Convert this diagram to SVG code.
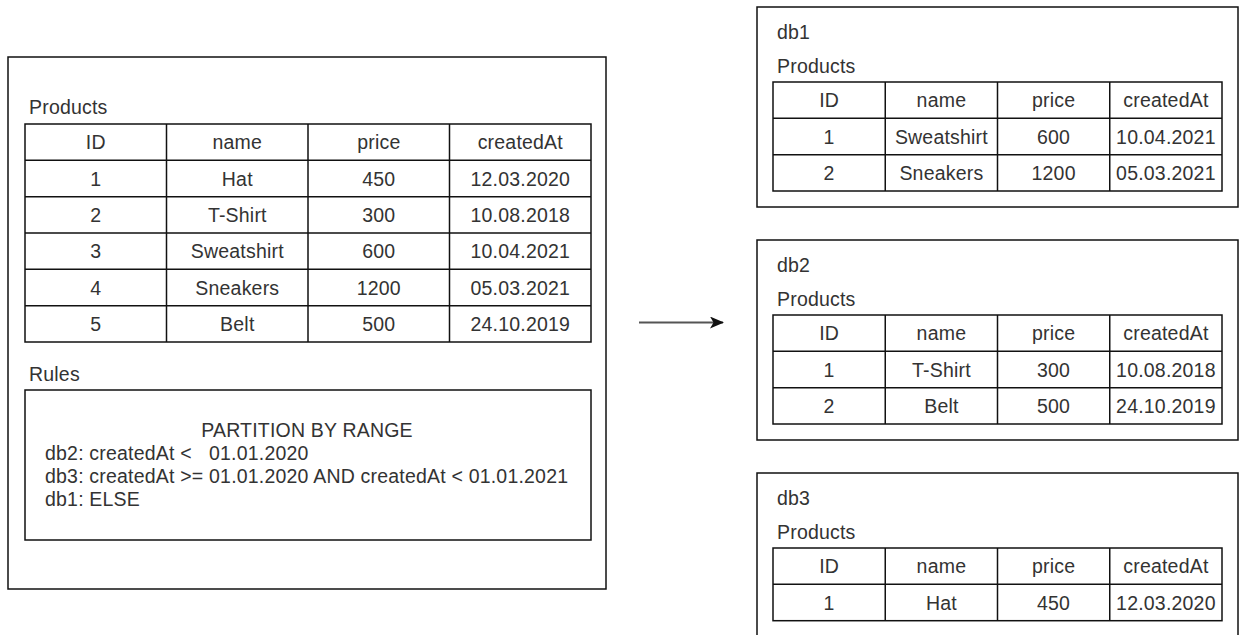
<svg xmlns="http://www.w3.org/2000/svg" width="1239" height="635" viewBox="0 0 1239 635">
  <style>
    .box { fill: #ffffff; stroke: #111111; stroke-width: 1.5; }
    .grid { fill: none; stroke: #111111; stroke-width: 1.5; }
    text { font-family: "Liberation Sans", Arial, sans-serif; font-size: 19.5px; letter-spacing: 0.2px; fill: #333333; }
    .c { text-anchor: middle; }
    .edge { stroke: #555555; stroke-width: 2; fill: none; }
  </style>
  <defs>
    <marker id="arrow" viewBox="0 0 14 12" refX="13" refY="6" markerWidth="14" markerHeight="12" markerUnits="userSpaceOnUse" orient="auto">
      <path d="M14,6 L0,0 L3.5,6 L0,12 Z" fill="#111111"/>
    </marker>
  </defs>
  <rect width="1239" height="635" fill="#ffffff"/>

  <!-- source database with its table and partition rules -->
  <g id="source">
    <rect class="box" x="8" y="57" width="598" height="532"/>
    <text x="29" y="114">Products</text>
    <g id="source-table">
      <rect class="grid" x="25" y="124" width="566" height="218"/>
      <path class="grid" d="M25,160.3H591M25,196.7H591M25,233H591M25,269.3H591M25,305.7H591M166.5,124V342M308,124V342M449.5,124V342"/>
      <text class="c" x="95.8" y="149">ID</text>
      <text class="c" x="237.3" y="149">name</text>
      <text class="c" x="378.8" y="149">price</text>
      <text class="c" x="520.3" y="149">createdAt</text>
      <text class="c" x="95.8" y="185.5">1</text>
      <text class="c" x="237.3" y="185.5">Hat</text>
      <text class="c" x="378.8" y="185.5">450</text>
      <text class="c" x="520.3" y="185.5">12.03.2020</text>
      <text class="c" x="95.8" y="221.8">2</text>
      <text class="c" x="237.3" y="221.8">T-Shirt</text>
      <text class="c" x="378.8" y="221.8">300</text>
      <text class="c" x="520.3" y="221.8">10.08.2018</text>
      <text class="c" x="95.8" y="258.2">3</text>
      <text class="c" x="237.3" y="258.2">Sweatshirt</text>
      <text class="c" x="378.8" y="258.2">600</text>
      <text class="c" x="520.3" y="258.2">10.04.2021</text>
      <text class="c" x="95.8" y="294.5">4</text>
      <text class="c" x="237.3" y="294.5">Sneakers</text>
      <text class="c" x="378.8" y="294.5">1200</text>
      <text class="c" x="520.3" y="294.5">05.03.2021</text>
      <text class="c" x="95.8" y="330.8">5</text>
      <text class="c" x="237.3" y="330.8">Belt</text>
      <text class="c" x="378.8" y="330.8">500</text>
      <text class="c" x="520.3" y="330.8">24.10.2019</text>
    </g>
    <text x="29" y="381">Rules</text>
    <g id="rules">
      <rect class="grid" x="25" y="390" width="566" height="150"/>
      <text class="c" x="307" y="436.5">PARTITION BY RANGE</text>
      <text x="45" y="459.5">db2: createdAt &lt;</text>
      <text x="209" y="459.5">01.01.2020</text>
      <text x="45" y="482.5">db3: createdAt &gt;= 01.01.2020 AND createdAt &lt; 01.01.2021</text>
      <text x="45" y="505.5">db1: ELSE</text>
    </g>
  </g>

  <!-- connectors -->
  <g id="connectors">
    <line class="edge" x1="639" y1="322.5" x2="723" y2="322.5" marker-end="url(#arrow)"/>
  </g>

  <!-- shard db1 -->
  <g id="db1" transform="translate(757,7)">
    <rect class="box" x="0" y="0" width="481" height="200"/>
    <text x="20" y="32">db1</text>
    <text x="20" y="65.5">Products</text>
    <rect class="grid" x="16" y="75" width="449" height="109"/>
    <path class="grid" d="M16,111.3H465M16,147.7H465M128.25,75V184M240.5,75V184M352.75,75V184"/>
    <text class="c" x="72.1" y="100">ID</text>
    <text class="c" x="184.4" y="100">name</text>
    <text class="c" x="296.6" y="100">price</text>
    <text class="c" x="408.9" y="100">createdAt</text>
    <text class="c" x="72.1" y="136.5">1</text>
    <text class="c" x="184.4" y="136.5">Sweatshirt</text>
    <text class="c" x="296.6" y="136.5">600</text>
    <text class="c" x="408.9" y="136.5">10.04.2021</text>
    <text class="c" x="72.1" y="172.8">2</text>
    <text class="c" x="184.4" y="172.8">Sneakers</text>
    <text class="c" x="296.6" y="172.8">1200</text>
    <text class="c" x="408.9" y="172.8">05.03.2021</text>
  </g>

  <!-- shard db2 -->
  <g id="db2" transform="translate(757,240)">
    <rect class="box" x="0" y="0" width="481" height="200"/>
    <text x="20" y="32">db2</text>
    <text x="20" y="65.5">Products</text>
    <rect class="grid" x="16" y="75" width="449" height="109"/>
    <path class="grid" d="M16,111.3H465M16,147.7H465M128.25,75V184M240.5,75V184M352.75,75V184"/>
    <text class="c" x="72.1" y="100">ID</text>
    <text class="c" x="184.4" y="100">name</text>
    <text class="c" x="296.6" y="100">price</text>
    <text class="c" x="408.9" y="100">createdAt</text>
    <text class="c" x="72.1" y="136.5">1</text>
    <text class="c" x="184.4" y="136.5">T-Shirt</text>
    <text class="c" x="296.6" y="136.5">300</text>
    <text class="c" x="408.9" y="136.5">10.08.2018</text>
    <text class="c" x="72.1" y="172.8">2</text>
    <text class="c" x="184.4" y="172.8">Belt</text>
    <text class="c" x="296.6" y="172.8">500</text>
    <text class="c" x="408.9" y="172.8">24.10.2019</text>
  </g>

  <!-- shard db3 -->
  <g id="db3" transform="translate(757,473)">
    <rect class="box" x="0" y="0" width="481" height="200"/>
    <text x="20" y="32">db3</text>
    <text x="20" y="65.5">Products</text>
    <rect class="grid" x="16" y="75" width="449" height="72.7"/>
    <path class="grid" d="M16,111.3H465M128.25,75V147.7M240.5,75V147.7M352.75,75V147.7"/>
    <text class="c" x="72.1" y="100">ID</text>
    <text class="c" x="184.4" y="100">name</text>
    <text class="c" x="296.6" y="100">price</text>
    <text class="c" x="408.9" y="100">createdAt</text>
    <text class="c" x="72.1" y="136.5">1</text>
    <text class="c" x="184.4" y="136.5">Hat</text>
    <text class="c" x="296.6" y="136.5">450</text>
    <text class="c" x="408.9" y="136.5">12.03.2020</text>
  </g>
</svg>
